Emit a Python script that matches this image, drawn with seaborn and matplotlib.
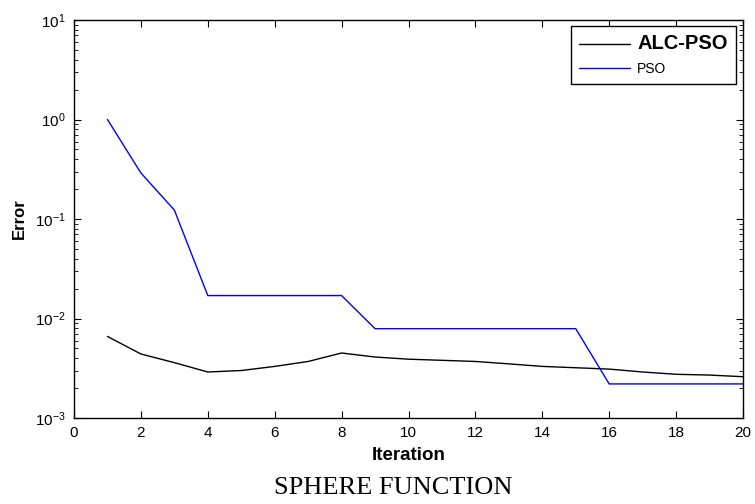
import numpy as np
import pandas as pd
import matplotlib
matplotlib.use("Agg")
import matplotlib.pyplot as plt
import seaborn as sns
from matplotlib.ticker import LogLocator, NullFormatter, FixedLocator
from matplotlib.lines import Line2D

iterations = list(range(1, 21))
alc_pso = [0.0066, 0.0044, 0.0036, 0.0029, 0.0030, 0.0033, 0.0037, 0.0045, 0.0041, 0.0039,
           0.0038, 0.0037, 0.0035, 0.0033, 0.0032, 0.0031, 0.0029, 0.00275, 0.0027, 0.0026]
pso = [1.0, 0.29, 0.123, 0.017, 0.017, 0.017, 0.017, 0.017, 0.0079, 0.0079,
       0.0079, 0.0079, 0.0079, 0.0079, 0.0079, 0.0022, 0.0022, 0.0022, 0.0022, 0.0022]
series_names = ["ALC-PSO", "PSO"]
x_ticks = [0, 2, 4, 6, 8, 10, 12, 14, 16, 18, 20]

sns.set_style("ticks")
plt.rcParams['font.family'] = ['Liberation Sans', 'DejaVu Sans']
plt.rcParams['mathtext.fontset'] = 'custom'
plt.rcParams['mathtext.rm'] = 'Liberation Sans'
plt.rcParams['mathtext.it'] = 'Liberation Sans:italic'
plt.rcParams['mathtext.bf'] = 'Liberation Sans:bold'
plt.rcParams['axes.unicode_minus'] = False
plt.rcParams['text.color'] = 'black'
plt.rcParams['axes.labelcolor'] = 'black'
plt.rcParams['xtick.color'] = 'black'
plt.rcParams['ytick.color'] = 'black'

df = pd.DataFrame({
    "Iteration": iterations * 2,
    "Error": alc_pso + pso,
    "Method": [series_names[0]] * len(iterations) + [series_names[1]] * len(iterations),
})

fig = plt.figure(figsize=(7.55, 5.04), dpi=100)
ax = fig.add_axes([74 / 755, 1 - 418 / 504, (743 - 74) / 755, (418 - 20) / 504])
sns.lineplot(data=df, x="Iteration", y="Error", hue="Method",
             palette={"ALC-PSO": "black", "PSO": "blue"}, linewidth=1.0, ax=ax, legend=False)
ax.set_yscale("log")
ax.set_xlim(0, 20)
ax.set_ylim(1e-3, 1e1)
ax.xaxis.set_major_locator(FixedLocator(x_ticks))
ax.yaxis.set_major_locator(LogLocator(base=10, numticks=10))
ax.yaxis.set_minor_locator(LogLocator(base=10, subs=np.arange(2, 10), numticks=20))
ax.yaxis.set_minor_formatter(NullFormatter())
ax.tick_params(axis="both", which="major", direction="in", top=True, right=True,
               length=5, width=0.8, labelsize=11, pad=6, colors="black")
ax.tick_params(axis="y", which="minor", direction="in", right=True, length=3, width=0.6)
for s in ax.spines.values():
    s.set_linewidth(1.0)
    s.set_color("black")

ax.set_xlabel("Iteration", fontsize=13.5, fontweight="bold", labelpad=5)
ax.set_ylabel("Error", fontsize=12, fontweight="bold", labelpad=6)

handles = [Line2D([], [], color="black", lw=1.0), Line2D([], [], color="blue", lw=1.0)]
leg = ax.legend(handles, series_names, loc="upper right", bbox_to_anchor=(1 - 7 / 669, 1 - 6 / 398),
                frameon=True, fancybox=False, edgecolor="black", framealpha=1,
                fontsize=10, handlelength=3.7, borderaxespad=0, borderpad=0.6,
                labelspacing=0.6, handletextpad=0.5)
leg.get_frame().set_linewidth(1.0)
texts = leg.get_texts()
texts[0].set_fontweight("bold")
texts[0].set_fontsize(14.5)

fig.text(393 / 755, 1 - 488 / 504, "SPHERE FUNCTION", ha="center", va="center",
         fontsize=19, family=["Liberation Serif", "DejaVu Serif"])

fig.savefig("out.png", dpi=100)
